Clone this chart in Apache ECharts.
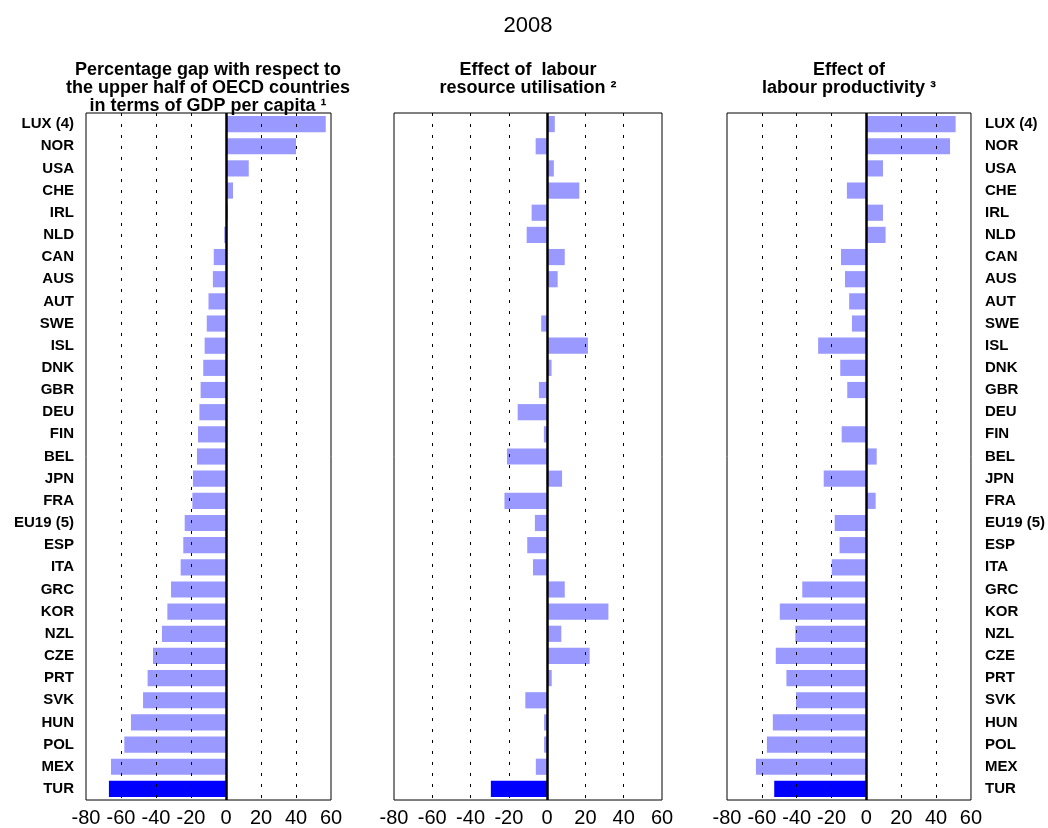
<!DOCTYPE html>
<html>
<head>
<meta charset="utf-8">
<script src="https://cdn.jsdelivr.net/npm/echarts@6/dist/echarts.min.js"></script>
<style>
  html, body { margin: 0; padding: 0; background: #fff; }
  #chart { width: 1048px; height: 828px; }
</style>
</head>
<body>
<div id="chart"></div>
<script>
// Countries, top to bottom
const countries = ['LUX (4)', 'NOR', 'USA', 'CHE', 'IRL', 'NLD', 'CAN', 'AUS', 'AUT', 'SWE',
  'ISL', 'DNK', 'GBR', 'DEU', 'FIN', 'BEL', 'JPN', 'FRA', 'EU19 (5)', 'ESP',
  'ITA', 'GRC', 'KOR', 'NZL', 'CZE', 'PRT', 'SVK', 'HUN', 'POL', 'MEX', 'TUR'];

// Percentage gap in GDP per capita
const gdpGap = [57, 40, 13, 4, 1, -1, -7, -7.5, -10, -11,
  -12.2, -13, -14.5, -15.2, -16, -16.6, -18.9, -19.2, -23.6, -24.4,
  -25.9, -31.4, -33.5, -36.6, -41.7, -44.8, -47.4, -54.3, -58.1, -65.7, -66.9];

// Effect of labour resource utilisation
const utilEffect = [4, -6, 3.5, 16.8, -8.1, -10.7, 9.2, 5.5, 0.4, -3.1,
  21.3, 2.3, -4.3, -15.4, -1.7, -21, 7.8, -22.3, -6.4, -10.4,
  -7.4, 9.2, 32, 7.4, 22.2, 2.4, -11.4, -1.6, -1.6, -5.9, -29.4];

// Effect of labour productivity
const prodEffect = [51.2, 48, 9.5, -11.2, 9.5, 11, -14.6, -12.3, -9.9, -8.3,
  -27.7, -15, -11, 0, -14.2, 5.9, -24.5, 5.3, -18.2, -15.4,
  -19.9, -36.8, -49.7, -40.8, -52, -45.9, -40.4, -53.7, -57.1, -63.4, -52.9];

const xTicks = { min: -80, max: 60, interval: 20 };
const highlighted = 'TUR';

const FONT = '"Liberation Sans", Arial, Helvetica, sans-serif';
const BAR = '#9999ff';
const BAR_HL = '#0000ff';

const grids = [
  { left: 86, width: 245, top: 113, bottom: 28 },
  { left: 394, width: 268, top: 113, bottom: 28 },
  { left: 727, width: 245, top: 113, bottom: 28 }
];

function xAxisFor(i) {
  return {
    type: 'value', gridIndex: i, min: xTicks.min, max: xTicks.max, interval: xTicks.interval,
    z: 5,
    axisLine: { show: false }, axisTick: { show: false },
    axisLabel: { color: '#000', fontSize: 20, fontFamily: FONT, margin: 8 },
    splitLine: {
      show: true, showMinLine: false, showMaxLine: false,
      lineStyle: { color: '#000', width: 1, type: [3, 8] }
    }
  };
}

function yAxisFor(i, position, showLabels) {
  return {
    type: 'category', gridIndex: i, data: countries, inverse: true, position: position,
    axisLine: { show: false, onZero: false }, axisTick: { show: false },
    axisLabel: {
      show: showLabels, color: '#000', fontSize: 15, fontWeight: 'bold', fontFamily: FONT,
      margin: position === 'left' ? 12 : 14, padding: [3, 0, 0, 0]
    },
    splitLine: { show: false }
  };
}

function seriesFor(i, values) {
  return {
    type: 'bar', xAxisIndex: i, yAxisIndex: i,
    barCategoryGap: '27%',
    z: 2,
    data: values.map((v, k) => ({
      value: v,
      itemStyle: { color: countries[k] === highlighted ? BAR_HL : BAR }
    })),
    markLine: {
      silent: true, symbol: 'none', z: 10,
      label: { show: false },
      lineStyle: { color: '#000', width: 2.5, type: 'solid' },
      data: [{ xAxis: 0 }]
    },
    animation: false
  };
}

function titleText(x, text) {
  return {
    type: 'text', x: x, y: 61, z: 10,
    style: {
      text: text, align: 'center', verticalAlign: 'top',
      font: 'bold 18px ' + FONT, lineHeight: 18, fill: '#000'
    }
  };
}

const chart = echarts.init(document.getElementById('chart'), null, { renderer: 'canvas' });
chart.setOption({
  backgroundColor: '#fff',
  animation: false,
  grid: grids.map(g => Object.assign({ show: true, z: 6, borderColor: '#000', borderWidth: 1, backgroundColor: 'transparent' }, g)),
  xAxis: [xAxisFor(0), xAxisFor(1), xAxisFor(2)],
  yAxis: [yAxisFor(0, 'left', true), yAxisFor(1, 'left', false), yAxisFor(2, 'right', true)],
  series: [seriesFor(0, gdpGap), seriesFor(1, utilEffect), seriesFor(2, prodEffect)],
  graphic: [
    {
      type: 'text', x: 528, y: 15, z: 10,
      style: { text: '2008', align: 'center', verticalAlign: 'top', font: '22px ' + FONT, fill: '#000' }
    },
    titleText(208, 'Percentage gap with respect to\nthe upper half of OECD countries\nin terms of GDP per capita \u00B9'),
    titleText(528, 'Effect of  labour\nresource utilisation \u00B2'),
    titleText(849, 'Effect of\nlabour productivity \u00B3')
  ]
});
</script>
</body>
</html>
